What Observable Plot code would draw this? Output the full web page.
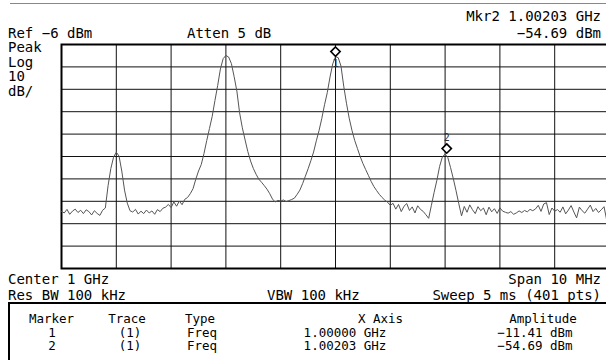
<!DOCTYPE html>
<html>
<head>
<meta charset="utf-8">
<script src="https://cdn.jsdelivr.net/npm/d3@7"></script>
<script src="https://cdn.jsdelivr.net/npm/@observablehq/plot@0.6"></script>
<style>
  html, body { margin: 0; padding: 0; background: #fff; overflow: hidden; }
  #wrap { position: relative; width: 606px; height: 360px; overflow: hidden; background: #fff;
          font-family: "DejaVu Sans Mono", monospace; color: #000; }
  .t { position: absolute; font-size: 14px; line-height: 14px; white-space: pre; }
  .s { position: absolute; font-size: 12.5px; line-height: 12.5px; white-space: pre; }
  .c { transform: translateX(-50%); }
  #topline { position: absolute; left: 10px; right: 0; top: 3px; height: 0; border-top: 1px solid #888; }
  #box { position: absolute; left: 8px; top: 302px; width: 640px; height: 100px; border: 2px solid #000; box-sizing: border-box; }
  #chart { position: absolute; left: 0; top: 0; }
  #scale { position: absolute; left: 8px; top: 40px; font-size: 14px; line-height: 14.5px; white-space: pre; }
</style>
</head>
<body>
<div id="wrap">
  <div id="topline"></div>
  <div id="chart"></div>
  <div class="t" style="right:5px;top:9px">Mkr2 1.00203 GHz</div>
  <div class="t" style="left:8px;top:25.5px">Ref −6 dBm</div>
  <div class="t" style="left:187px;top:25.5px">Atten 5 dB</div>
  <div class="t" style="right:5px;top:25.5px">−54.69 dBm</div>
  <div id="scale">Peak<br>Log<br>10<br>dB/</div>
  <div class="t" style="left:8px;top:272px">Center 1 GHz</div>
  <div class="t" style="right:5px;top:272px">Span 10 MHz</div>
  <div class="t" style="left:8px;top:287.5px">Res BW 100 kHz</div>
  <div class="t" style="left:267px;top:287.5px">VBW 100 kHz</div>
  <div class="t" style="right:5px;top:287.5px">Sweep 5 ms (401 pts)</div>
  <div id="box"></div>
  <div id="table"></div>
</div>
<script>
// ---- Instrument settings ----
const startFreq = 995.0;   // MHz
const stopFreq = 1005.0;   // MHz
const freqStep = 0.05;     // MHz between trace points
const refLevel = -6;       // dBm
const bottomLevel = -106;  // dBm (10 div x 10 dB)

// ---- Grid tick values ----
const gridFreqs = [996, 997, 998, 999, 1000, 1001, 1002, 1003, 1004];
const gridLevels = [-16, -26, -36, -46, -56, -66, -76, -86, -96];

// ---- Trace amplitudes (dBm), one per freqStep ----
const traceAmp = [
  -80.5, -81.2, -79.6, -81.8, -80.4, -79.5, -81.0, -80.0, -81.5, -79.8,
  -80.6, -82.1, -80.2, -81.4, -82.3, -80.0, -79.0, -69.0, -61.4, -56.3,
  -54.1, -55.8, -62.5, -71.0, -76.8, -80.2, -80.8, -79.6, -81.7, -80.4,
  -81.5, -79.9, -81.2, -80.3, -81.8, -79.7, -80.6, -79.1, -78.6, -77.4,
  -78.8, -76.3, -78.2, -75.9, -77.5, -75.1, -74.3, -72.6, -70.4, -66.2,
  -62.5, -59.6, -54.7, -48.9, -43.5, -38.1, -31.0, -24.3, -16.9, -12.3,
  -10.9, -11.6, -14.5, -20.3, -26.8, -36.5, -43.2, -48.6, -53.8, -58.0,
  -61.3, -63.9, -66.1, -67.5, -69.0, -70.6, -72.6, -75.0, -76.3, -75.6,
  -75.9, -75.4, -76.1, -75.7, -75.2, -74.6, -72.9, -71.0, -68.1, -64.8,
  -61.5, -57.9, -54.0, -49.0, -44.4, -39.0, -32.9, -27.5, -20.5, -14.6,
  -11.41, -11.9, -15.6, -24.6, -32.2, -38.9, -44.3, -48.8, -52.4, -56.0,
  -59.1, -61.8, -64.4, -67.1, -69.4, -71.2, -72.9, -74.3, -75.5, -76.4,
  -77.8, -76.9, -79.5, -77.4, -80.6, -78.2, -77.0, -80.1, -78.5, -81.2,
  -78.0, -79.6, -80.5, -82.0, -83.6, -77.8, -72.0, -66.6, -60.4, -56.2,
  -54.9, -56.5, -61.0, -65.9, -71.3, -77.1, -82.5, -78.3, -80.9, -77.6,
  -79.8, -81.5, -78.4, -80.2, -79.0, -82.0, -78.6, -80.7, -79.3, -81.4,
  -78.9, -80.4, -80.9, -81.3, -80.6, -81.8, -81.2, -80.3, -81.0, -80.1,
  -80.7, -79.6, -80.2, -79.4, -77.8, -80.5, -77.2, -76.6, -81.9, -79.0,
  -80.4, -79.7, -80.9, -78.5, -81.6, -79.9, -77.9, -80.8, -83.4, -78.6,
  -80.2, -81.3, -79.5, -77.7, -80.6, -79.2, -81.0, -79.8, -78.4, -84.5,
  -79.6
];

// ---- Markers ----
const markerIds = ["1", "2"];
const markerTrace = ["(1)", "(1)"];
const markerType = ["Freq", "Freq"];
const markerFreq = [1000.00, 1002.03];          // MHz
const markerFreqLabel = ["1.00000 GHz", "1.00203 GHz"];
const markerAmp = [-11.41, -54.69];             // dBm
const markerAmpLabel = ["−11.41 dBm", "−54.69 dBm"];
const markerLabelBelow = [true, false];

// ---- Build tables ----
const trace = traceAmp.map((a, i) => ({f: startFreq + i * freqStep, a}));
const markers = markerIds.map((id, i) => ({id, f: markerFreq[i], a: markerAmp[i], below: markerLabelBelow[i]}));

const chart = Plot.plot({
  width: 610,
  height: 360,
  marginLeft: 61,
  marginRight: 1,
  marginTop: 44,
  marginBottom: 92,
  style: {maxWidth: "none", background: "transparent", overflow: "visible", fontFamily: "DejaVu Sans Mono"},
  x: {domain: [startFreq, stopFreq], axis: null},
  y: {domain: [bottomLevel, refLevel], axis: null},
  marks: [
    Plot.ruleX(gridFreqs, {stroke: "#111", strokeWidth: 1}),
    Plot.ruleY(gridLevels, {stroke: "#111", strokeWidth: 1}),
    Plot.frame({stroke: "#000", strokeWidth: 2}),
    Plot.line(trace, {x: "f", y: "a", stroke: "#555", strokeWidth: 1}),
    Plot.text(markers.filter(d => d.below), {x: "f", y: "a", text: "id", dy: 7, fontSize: 11, fill: "#333"}),
    Plot.text(markers.filter(d => !d.below), {x: "f", y: "a", text: "id", dy: -16, fontSize: 10, fill: "#333"}),
    Plot.dot(markers, {x: "f", y: "a", dy: -5, symbol: "diamond2", r: 4.2, stroke: "#000", strokeWidth: 1.6, fill: "#fff"})
  ]
});
document.getElementById("chart").appendChild(chart);

// ---- Marker table text ----
const table = document.getElementById("table");
function addText(txt, left, top, center) {
  const d = document.createElement("div");
  d.className = "s" + (center ? " c" : "");
  d.style.left = left + "px";
  d.style.top = top + "px";
  d.textContent = txt;
  table.appendChild(d);
}
const headers = ["Marker", "Trace", "Type", "X Axis", "Amplitude"];
const headerX = [51.5, 127, 185, 380.5, 543];
const headerCenter = [true, true, false, true, true];
headers.forEach((h, i) => addText(h, headerX[i], 312.5, headerCenter[i]));
const rowTops = [326.5, 340];
markerIds.forEach((id, r) => {
  addText(id, 52, rowTops[r], true);
  addText(markerTrace[r], 130, rowTops[r], true);
  addText(markerType[r], 187, rowTops[r], false);
  addText(markerFreqLabel[r], 345, rowTops[r], true);
  addText(markerAmpLabel[r], 535, rowTops[r], true);
});
</script>
</body>
</html>
